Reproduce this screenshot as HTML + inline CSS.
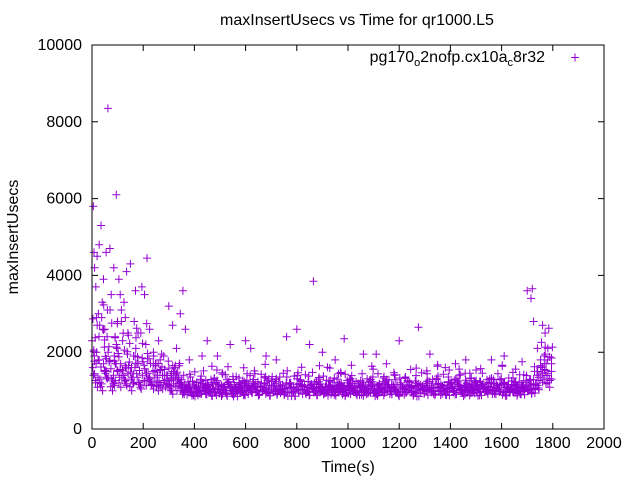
<!DOCTYPE html>
<html><head><meta charset="utf-8">
<style>
body{margin:0;background:#fff;}
svg{display:block;font-family:"Liberation Sans",sans-serif;}
</style></head>
<body>
<svg id="chart" width="640" height="480" viewBox="0 0 640 480">
<rect width="640" height="480" fill="#fff"/>
<text x="357" y="25" text-anchor="middle" font-size="16">maxInsertUsecs vs Time for qr1000.L5</text>
<text x="348" y="472" text-anchor="middle" font-size="16">Time(s)</text>
<text transform="translate(18,237) rotate(-90)" text-anchor="middle" font-size="16">maxInsertUsecs</text>
<g id="axes"></g>
<g id="points"></g>
<rect x="92" y="45" width="512" height="384" fill="none" stroke="#000" stroke-width="1"/>
<g>
<text x="545" y="62" text-anchor="end" font-size="16">pg170<tspan font-size="11" dy="4">o</tspan><tspan dy="-4">2nofp.cx10a</tspan><tspan font-size="11" dy="4">c</tspan><tspan dy="-4">8r32</tspan></text>
<path d="M571 57.5h8M575 53.5v8" stroke="#9400d3" stroke-width="1"/>
</g>
</svg>
<script>
const xTicks=[0,200,400,600,800,1000,1200,1400,1600,1800,2000];
const yTicks=[0,2000,4000,6000,8000,10000];
const bandA=[2300,1200,1800,2600,1500,3100,1400,2100,1700,1300,2500,1600,1900,1200,1400,2200,1300,1500,1100,1800,1200,1400,1000,1600,1300,
1050,980,1120,1240,960,1010,1180,1090,940,1300,1020,1150,990,1210,1070,930,1110,1260,1000,1040,1190,970,1080,1330,950,
1120,1010,1230,990,1060,1170,940,1100,1280,1030,960,1140,1200,1050,990,1110,1250,980,1070,1160,940,1020,1310,1090,970,
1130,1000,1220,1060,950,1180,1040,1270,990,1110,960,1150,1030,1240,1080,930,1120,1010,1190,1050,970,1290,1100,980,1060,
1170,1000,1230,940,1090,1140,1020,1260,960,1080,1190,1040,990,1120,1310,950,1070,1160,1010,1220,980,1100,1050,1280,1130,1600,1700,1400,1500];
const bandB=[1600,2000,1300,1700,2400,1100,1900,1500,2800,1250,1650,1350,2100,1150,1750,1450,1250,1900,1350,1150,1550,1250,1450,1100,1350,
990,1140,1060,930,1210,1080,1000,1160,1290,970,1050,1120,940,1230,1010,1090,1180,960,1270,1040,1130,990,1200,1070,950,
1250,1020,1110,980,1190,1060,940,1150,1240,1000,1080,1170,960,1300,1030,1110,990,1220,1050,1140,970,1260,1090,1010,1180,
950,1120,1040,1230,980,1160,1070,1280,1000,1100,940,1200,1060,1150,990,1250,1030,1120,970,1190,1080,1320,1010,1140,960,
1220,1050,1100,990,1270,1030,1170,950,1240,1080,1120,1000,1190,1060,1290,970,1150,1040,1210,990,1110,1260,1020,1180,1400,1350,1550,1200,1300];
const bandC=[1400,2700,1100,1500,2000,1300,1700,1200,2300,1600,1100,1900,1350,2500,1250,1450,1150,1650,1200,1400,1300,1100,1500,1250,1000,
1150,1230,970,1080,1010,1190,1120,950,1040,1260,1000,1110,1170,930,1070,1210,990,1130,1050,1290,960,1100,1180,1020,1240,
980,1060,1150,1200,940,1090,1030,1270,1110,970,1160,1010,1230,1080,950,1140,1040,1300,990,1120,1200,1060,960,1180,1100,
1020,1250,940,1130,1070,1190,1000,1160,1280,1040,980,1110,1220,1050,930,1150,1090,1240,1010,1170,970,1120,1060,1200,990,
1270,1030,1140,960,1100,1210,1050,1160,1000,1300,1080,1130,980,1190,1040,1250,950,1110,1070,1220,1010,1150,1500,1800,1900,1450,1700];
const bandD=[1900,1350,2900,1450,1750,1250,2200,1550,1400,1950,1300,1600,1200,1850,1450,1350,1700,1250,1550,1400,1150,1300,1650,1200,1100,
1080,950,1170,1020,1250,990,1130,1060,1210,940,1100,1280,1000,1150,1040,970,1190,1090,1230,960,1120,1010,1260,1070,1180,
1030,1140,940,1200,1080,1310,1000,1110,1240,1050,970,1160,1020,1270,1090,950,1130,1200,1040,1000,1250,1100,980,1170,1060,
1290,1010,1120,960,1230,1070,1150,990,1200,1040,1260,950,1090,1180,1020,1130,1240,1000,1080,1160,970,1210,1050,1300,1110,
990,1190,1040,1250,960,1140,1070,1220,1010,1170,1280,950,1100,1060,1230,1000,1150,1090,1270,1030,1180,1650,1300,2100,1850];
const outT=[5,8,15,20,28,35,45,55,62,70,75,85,95,105,115,125,135,150,170,195,205,215,225,240,300,315,345,355,365,450,540,600,620,720,760,800,850,865,900,985,1060,1110,1200,1275,1320,1380,1460,1560,1610,1700,1715,1720,1725,1740,1760,1770,1780,1795,1680,1420,1150,950,680,490,430,260,280,330,380,250,165,180,130,110,100,90,40,50,60,30,10,18,25];
const outV=[5800,4600,3700,4500,4800,5300,3900,4600,8350,4700,3500,4200,6100,3900,3100,3300,4100,4300,3600,3700,3500,4450,2600,2000,3200,2700,3000,3600,2600,2300,2200,2300,2100,1800,2400,2600,2200,3850,2000,2350,1950,1950,2300,2650,1950,1600,1800,1800,1900,3600,3400,3650,2800,2100,2700,2500,1800,1500,1750,1700,1700,1800,1900,1900,1900,2300,1900,2100,1800,1700,2800,2500,2900,3500,2800,2400,3300,2600,3100,2700,4200,2900,3000];
const NS='http://www.w3.org/2000/svg';
function xs(t){return 92+t*512/2000;}
function ys(v){return 429-v*384/10000;}
const axes=document.getElementById('axes');
xTicks.forEach(t=>{
  const x=xs(t);
  const p=document.createElementNS(NS,'path');
  p.setAttribute('d',`M${x} 429v-6M${x} 45v6`);p.setAttribute('stroke','#000');
  
  
  axes.appendChild(p);
  const tx=document.createElementNS(NS,'text');
  tx.setAttribute('x',x);tx.setAttribute('y',448);tx.setAttribute('text-anchor','middle');tx.setAttribute('font-size','16');
  tx.textContent=t;
  
  
  axes.appendChild(tx);
});
yTicks.forEach(v=>{
  const y=ys(v);
  const p=document.createElementNS(NS,'path');
  p.setAttribute('d',`M92 ${y}h6M604 ${y}h-6`);p.setAttribute('stroke','#000');
  
  
  axes.appendChild(p);
  const tx=document.createElementNS(NS,'text');
  tx.setAttribute('x',82);tx.setAttribute('y',y+5);tx.setAttribute('text-anchor','end');tx.setAttribute('font-size','16');
  tx.textContent=v;
  
  
  axes.appendChild(tx);
});
let d='';
function add(t,v){const x=xs(t),y=ys(v);d+=`M${(x-4).toFixed(1)} ${y.toFixed(1)}h8M${x.toFixed(1)} ${(y-4).toFixed(1)}v8`;}
[[bandA,0],[bandB,3],[bandC,6],[bandD,9]].forEach(([arr,off])=>{
  const step=(1795-off)/(arr.length-1);
  arr.forEach((v,i)=>{const t=i*step+off; add(t,v);});
  arr.forEach((v,i)=>{const t=i*step+off+step/2; if(t<=1800) add(t,v*0.88+30);});
  arr.forEach((v,i)=>{if(i%3===0){const t=i*step+off+step/4; if(t<=1800) add(t,v*1.22+60);}});
});
outT.forEach((t,i)=>add(t,outV[i]));
const pts=document.createElementNS(NS,'path');
pts.setAttribute('d',d);pts.setAttribute('stroke','#9400d3');pts.setAttribute('stroke-width','1');pts.setAttribute('fill','none');


document.getElementById('points').appendChild(pts);
</script>
</body></html>
